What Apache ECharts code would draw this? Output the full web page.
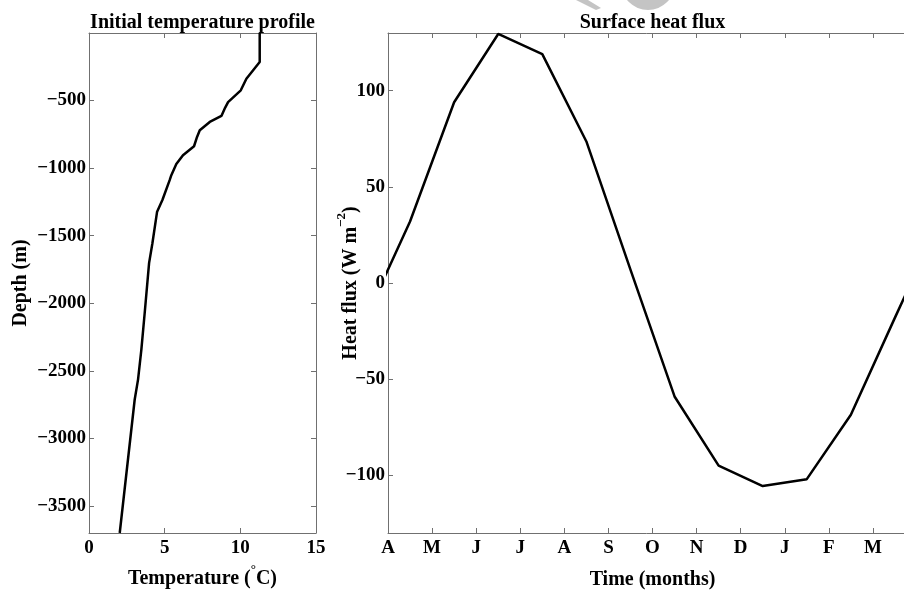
<!DOCTYPE html>
<html><head><meta charset="utf-8">
<script src="https://cdn.jsdelivr.net/npm/echarts@6/dist/echarts.min.js"></script>
<style>html,body{margin:0;padding:0;background:#fff}#c{width:904px;height:592px}</style>
</head><body><div id="c"></div>
<script>
// ---- data ----
const tempTicks = [0, 5, 10, 15];
const depthTicks = [-3500, -3000, -2500, -2000, -1500, -1000, -500];
const profileTemp  = [11.28, 11.28, 10.4, 10.03, 9.19, 9.0, 8.75, 7.98, 7.32, 7.14, 6.94, 6.21, 5.77, 5.44, 5.33, 4.85, 4.5, 4.19, 3.97, 3.68, 3.46, 3.24, 3.02, 2.03];
const profileDepth = [0, -215, -338, -424, -511, -552, -614, -658, -720, -769, -838, -904, -970, -1052, -1089, -1236, -1322, -1556, -1703, -2072, -2343, -2565, -2712, -3700];
const monthLabels = ['A', 'M', 'J', 'J', 'A', 'S', 'O', 'N', 'D', 'J', 'F', 'M', 'A'];
const fluxMonth  = [-0.5, 0.5, 1.5, 2.5, 3.5, 4.5, 5.5, 6.5, 7.5, 8.5, 9.5, 10.5, 11.5, 12.5];
const fluxValues = [-18, 32, 94, 129.5, 119, 73.6, 7, -59, -95, -105.6, -102, -68.5, -18, 32];
const fluxTicks = [-100, -50, 0, 50, 100];

// ---- chart ----
const FONT = 'Liberation Serif';
const gray = '#707070';
const chart = echarts.init(document.getElementById('c'));
const axLine = {show: true, onZero: false, lineStyle: {color: gray, width: 1}};
const tick = (vals) => {
  const t = {show: true, inside: true, length: 5, lineStyle: {color: gray, width: 1}};
  if (vals) t.customValues = vals;
  return t;
};
const lbl = {color: '#000', fontFamily: FONT, fontWeight: 'bold', fontSize: 19};
const minus = v => String(v).replace('-', '\u2212');
const nameStyle = {color: '#000', fontFamily: FONT, fontWeight: 'bold', fontSize: 20};
const richSup = {
  n: {fontFamily: FONT, fontWeight: 'bold', fontSize: 20, lineHeight: 26, verticalAlign: 'bottom', color: '#000'},
  s: {fontFamily: FONT, fontWeight: 'bold', fontSize: 13, lineHeight: 13, verticalAlign: 'top', color: '#000'}
};
const common = {nameMoveOverlap: false};

const option = {
  animation: false,
  backgroundColor: '#fff',
  grid: [
    {left: 89, top: 33, width: 227, height: 500, outerBoundsMode: 'none', containLabel: false},
    {left: 388, top: 33, width: 529, height: 500, outerBoundsMode: 'none', containLabel: false}
  ],
  xAxis: [
    Object.assign({gridIndex: 0, type: 'value', min: 0, max: 15, interval: 5, position: 'bottom',
     axisLine: axLine, axisTick: tick(), splitLine: {show: false},
     axisLabel: Object.assign({}, lbl, {margin: 6, customValues: tempTicks}),
     name: '{n|Temperature (}{s|°}{n|C)}', nameLocation: 'middle', nameGap: 30,
     nameTextStyle: Object.assign({}, nameStyle, {rich: richSup})}, common),
    Object.assign({gridIndex: 0, type: 'value', min: 0, max: 15, interval: 5, position: 'top',
     axisLine: axLine, axisTick: tick(), splitLine: {show: false}, axisLabel: {show: false},
     name: 'Initial temperature profile', nameLocation: 'middle', nameGap: 0, nameTextStyle: nameStyle}, common),
    Object.assign({gridIndex: 1, type: 'value', min: 0, max: 12, interval: 1, position: 'bottom',
     axisLine: axLine, axisTick: tick(), splitLine: {show: false},
     axisLabel: Object.assign({}, lbl, {margin: 6, formatter: v => monthLabels[v]}),
     name: 'Time (months)', nameLocation: 'middle', nameGap: 37, nameTextStyle: nameStyle}, common),
    Object.assign({gridIndex: 1, type: 'value', min: 0, max: 12, interval: 1, position: 'top',
     axisLine: axLine, axisTick: tick(), splitLine: {show: false}, axisLabel: {show: false},
     name: 'Surface heat flux', nameLocation: 'middle', nameGap: 0, nameTextStyle: nameStyle}, common)
  ],
  yAxis: [
    Object.assign({gridIndex: 0, type: 'value', min: -3700, max: 0, position: 'left',
     axisLine: axLine, axisTick: tick(depthTicks), splitLine: {show: false},
     axisLabel: Object.assign({}, lbl, {margin: 3, customValues: depthTicks, formatter: minus}),
     name: 'Depth (m)', nameLocation: 'middle', nameGap: 58, nameTextStyle: nameStyle}, common),
    Object.assign({gridIndex: 0, type: 'value', min: -3700, max: 0, position: 'right',
     axisLine: axLine, axisTick: tick(depthTicks), splitLine: {show: false}, axisLabel: {show: false}}, common),
    Object.assign({gridIndex: 1, type: 'value', min: -130, max: 130, position: 'left',
     axisLine: axLine, axisTick: tick(fluxTicks), splitLine: {show: false},
     axisLabel: Object.assign({}, lbl, {margin: 3, customValues: fluxTicks, formatter: minus}),
     name: '{n|Heat flux (W m}{s|\u22122}{n|)}', nameLocation: 'middle', nameGap: 27,
     nameTextStyle: Object.assign({}, nameStyle, {rich: richSup})}, common),
    Object.assign({gridIndex: 1, type: 'value', min: -130, max: 130, position: 'right',
     axisLine: axLine, axisTick: tick(fluxTicks), splitLine: {show: false}, axisLabel: {show: false}}, common)
  ],
  graphic: [
    {type: 'polygon', silent: true, z: -1, shape: {points: [[576, 0], [588, 0], [601, 8], [596, 10]]}, style: {fill: '#c4c4c4'}},
    {type: 'circle', silent: true, z: -1, shape: {cx: 648, cy: -17, r: 27}, style: {fill: '#c4c4c4'}}
  ],
  series: [
    {type: 'line', xAxisIndex: 0, yAxisIndex: 0, showSymbol: false, symbol: 'none',
     data: profileTemp.map((t, i) => [t, profileDepth[i]]),
     lineStyle: {color: '#000', width: 2.5}},
    {type: 'line', xAxisIndex: 2, yAxisIndex: 2, showSymbol: false, symbol: 'none', clip: true,
     data: fluxMonth.map((m, i) => [m, fluxValues[i]]),
     lineStyle: {color: '#000', width: 2.5}}
  ]
};
chart.setOption(option);
</script></body></html>
